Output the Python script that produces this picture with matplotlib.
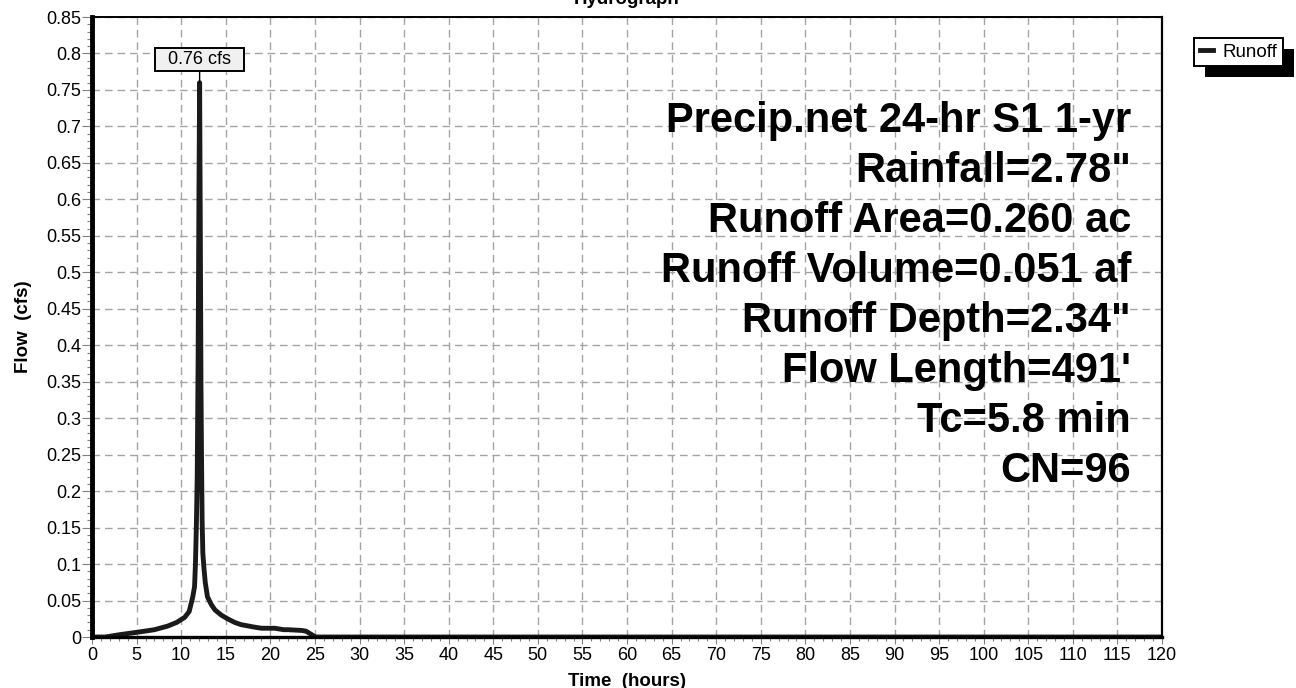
import matplotlib
matplotlib.use("Agg")
import matplotlib.pyplot as plt
from matplotlib.patches import Rectangle
from matplotlib.transforms import IdentityTransform
from matplotlib.ticker import MultipleLocator

plt.rcParams['font.family'] = ['Liberation Sans', 'DejaVu Sans']

# Runoff hydrograph (hours, cfs)
time_hr = [0, 1.5, 3, 5, 7, 8.5, 9.5, 10.4, 10.9, 11.3, 11.5, 11.6, 11.7, 11.8,
           11.9, 12.0, 12.07, 12.15, 12.22, 12.28, 12.35, 12.43, 12.55, 12.7,
           12.95, 13.4, 13.8, 14.5, 15.2, 16.0, 16.7, 18.0, 19.0, 20.5, 21.5,
           22.0, 23.5, 24.0, 24.4, 24.8, 25.0, 120]
flow_cfs = [0, 0.0, 0.003, 0.0064, 0.01, 0.015, 0.02, 0.027, 0.035, 0.055,
            0.069, 0.1, 0.15, 0.22, 0.38, 0.62, 0.76, 0.55, 0.35, 0.25, 0.16,
            0.115, 0.095, 0.075, 0.055, 0.044, 0.037, 0.03, 0.025, 0.02, 0.017,
            0.014, 0.012, 0.012, 0.01, 0.01, 0.009, 0.008, 0.005, 0.002, 0, 0]

peak_time = 12.07
peak_flow = 0.76

summary_lines = [
    'Precip.net 24-hr S1 1-yr',
    'Rainfall=2.78"',
    'Runoff Area=0.260 ac',
    'Runoff Volume=0.051 af',
    'Runoff Depth=2.34"',
    "Flow Length=491'",
    'Tc=5.8 min',
    'CN=96',
]

fig = plt.figure(figsize=(12.96, 6.88), dpi=100)
ax = fig.add_axes([92 / 1296, 51 / 688, 1070 / 1296, 620 / 688])

ax.plot(time_hr, flow_cfs, color='#1a1a1a', lw=3.5, label='Runoff',
        solid_joinstyle='round')

ax.set_xlim(0, 120)
ax.set_ylim(0, 0.85)
ax.xaxis.set_major_locator(MultipleLocator(5))
ax.xaxis.set_minor_locator(MultipleLocator(1))
ax.yaxis.set_major_locator(MultipleLocator(0.05))
ax.yaxis.set_minor_locator(MultipleLocator(0.01))
ax.yaxis.set_major_formatter(lambda v, p: f'{v:.2f}'.rstrip('0').rstrip('.'))
ax.xaxis.set_major_formatter(lambda v, p: f'{v:.0f}')

ax.grid(True, which='major', color='#a4a4a4', linestyle=(0, (5.5, 3.5)), lw=1)
ax.tick_params(axis='y', which='major', direction='out', length=7, width=0.8,
               color='#808080', labelsize=13, pad=1)
ax.tick_params(axis='y', which='minor', direction='out', length=3.5, width=0.8,
               color='#808080')
ax.tick_params(axis='x', which='major', direction='out', length=5, width=0.8,
               color='#808080', labelsize=13, pad=2)
ax.tick_params(axis='x', which='minor', direction='out', length=3, width=0.8,
               color='#808080')

ax.spines['left'].set_linewidth(3.5)
ax.spines['bottom'].set_linewidth(2.4)
ax.spines['top'].set_linewidth(1.4)
ax.spines['right'].set_linewidth(1.6)

ax.set_xlabel('Time  (hours)', fontsize=13.5, fontweight='bold')
ax.set_ylabel('Flow  (cfs)', fontsize=13.5, fontweight='bold')
ax.xaxis.set_label_coords(0.5, -0.058)
ax.yaxis.set_label_coords(-0.056, 0.5)
ax.set_title('Hydrograph', fontsize=13.5, fontweight='bold', pad=9)

# peak flow callout
ax.annotate(f'  {peak_flow:.2f} cfs  ', xy=(peak_time, peak_flow),
            xytext=(peak_time, 0.7915), ha='center', va='center', fontsize=13,
            bbox=dict(boxstyle='square,pad=0.15', fc='#f0f0f0', ec='k', lw=1.4),
            arrowprops=dict(arrowstyle='-', color='k', lw=1, shrinkA=0, shrinkB=0))

# storm / catchment summary
for i, line in enumerate(summary_lines):
    y_px = 132 + i * 50
    ax.text(0.971, (637.3 - y_px) / 620, line, transform=ax.transAxes,
            ha='right', va='baseline', fontsize=30, fontweight='bold')

leg = ax.legend(loc='upper left', bbox_to_anchor=(1194 / 1296, 1 - 38 / 688),
                bbox_transform=fig.transFigure, borderaxespad=0, fontsize=13.5,
                handlelength=0.7, handletextpad=0.5, borderpad=0.3,
                fancybox=False, framealpha=1, edgecolor='k')
leg.get_frame().set_linewidth(1.4)

# solid drop shadow behind the legend box
fig.canvas.draw()
bb = leg.get_window_extent()
fig.add_artist(Rectangle((bb.x0 + 11, bb.y0 - 11), bb.width, bb.height,
                         transform=IdentityTransform(), fc='k', ec='none',
                         zorder=-1))

fig.savefig('out.png', dpi=100)
